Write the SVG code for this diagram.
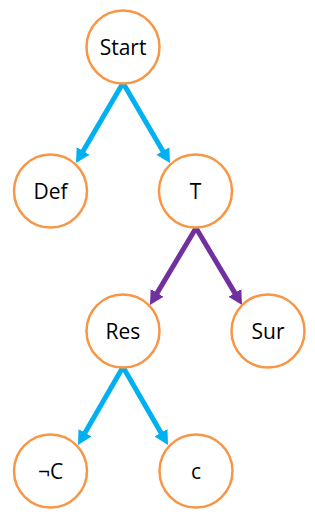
<svg xmlns="http://www.w3.org/2000/svg" width="315" height="528" viewBox="0 0 315 528">
<style>
.node circle{fill:#fff;stroke:#F79646;stroke-width:2.5}
.node text{font-family:"Open Sans","Liberation Sans",sans-serif;font-size:21px;fill:#000;text-anchor:middle;dominant-baseline:central}
.blue{stroke:#00B0F0;stroke-width:5;fill:none;marker-end:url(#ab)}
.purple{stroke:#7030A0;stroke-width:5;fill:none;marker-end:url(#ap)}
</style>
<defs>
<marker id="ab" markerUnits="userSpaceOnUse" markerWidth="16" markerHeight="16" viewBox="0 0 16 16" refX="4" refY="8" orient="auto"><path d="M0,0.5 L14,8 L0,15.5 z" fill="#00B0F0"/></marker>
<marker id="ap" markerUnits="userSpaceOnUse" markerWidth="16" markerHeight="16" viewBox="0 0 16 16" refX="4" refY="8" orient="auto"><path d="M0,0.5 L14,8 L0,15.5 z" fill="#7030A0"/></marker>
</defs>
<g id="connectors">
<line class="blue" x1="123" y1="83" x2="81.1" y2="154.4"/>
<line class="blue" x1="123" y1="83" x2="164.9" y2="154.4"/>
<line class="purple" x1="196" y1="228" x2="155.1" y2="296.4"/>
<line class="purple" x1="196" y1="228" x2="236.9" y2="296.4"/>
<line class="blue" x1="123" y1="367" x2="83" y2="436.3"/>
<line class="blue" x1="123" y1="367" x2="163" y2="436.3"/>
</g>
<g id="start" class="node"><circle cx="123" cy="47" r="36.5"/><text x="123" y="47">Start</text></g>
<g id="def" class="node"><circle cx="50.5" cy="191" r="36.5"/><text x="50.5" y="191">Def</text></g>
<g id="t" class="node"><circle cx="195.5" cy="191" r="36.5"/><text x="195.5" y="191">T</text></g>
<g id="res" class="node"><circle cx="123" cy="331" r="36.5"/><text x="123" y="331">Res</text></g>
<g id="sur" class="node"><circle cx="268" cy="331" r="36.5"/><text x="268" y="331">Sur</text></g>
<g id="notc" class="node"><circle cx="50.5" cy="471" r="36.5"/><text x="50.5" y="471">¬C</text></g>
<g id="c" class="node"><circle cx="196" cy="471" r="36.5"/><text x="196" y="471">c</text></g>
</svg>
